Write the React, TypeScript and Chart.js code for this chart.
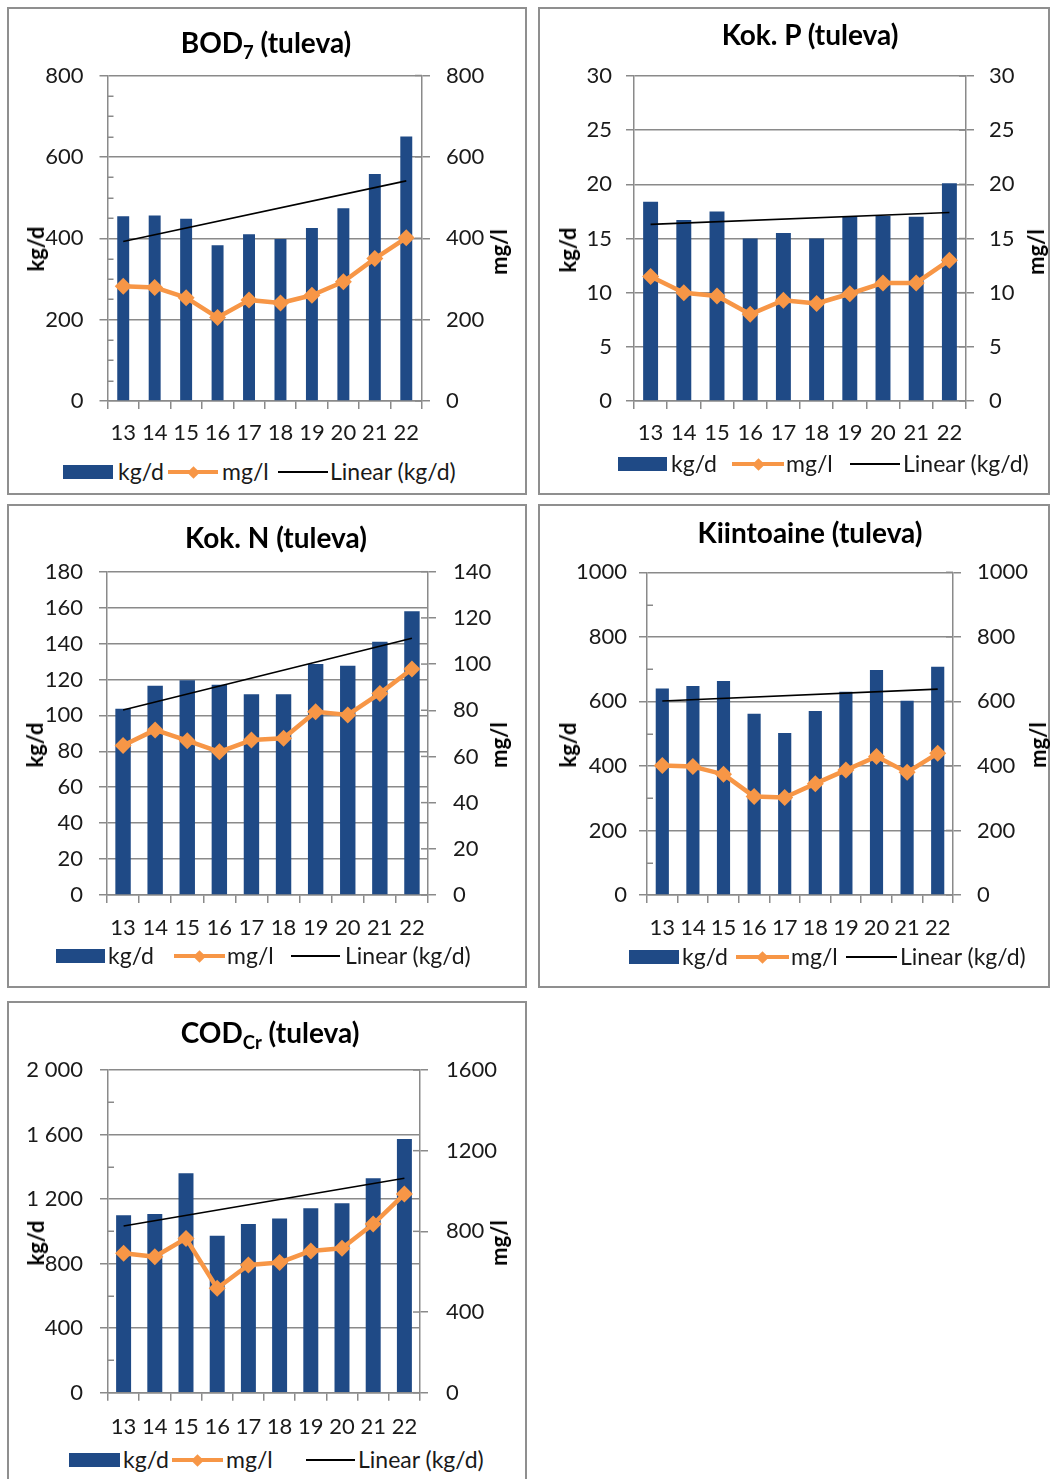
import React, { useEffect, useRef } from 'react';
import { Chart, registerables } from 'chart.js';

Chart.register(...registerables);

// ---------------- DATA ----------------
const categories = ['13', '14', '15', '16', '17', '18', '19', '20', '21', '22'];

const bodKg = [454, 456, 448, 383, 410, 398, 425, 474, 558, 650];
const bodMg = [282, 279, 254, 205, 248, 241, 260, 293, 350, 401];
const bodTrend = [392, 541];
const bodKgTicks = [0, 200, 400, 600, 800];
const bodMgTicks = [0, 200, 400, 600, 800];

const pKg = [18.4, 16.7, 17.5, 15.0, 15.5, 15.0, 17.0, 17.1, 17.0, 20.1];
const pMg = [11.5, 10.0, 9.7, 8.0, 9.3, 9.0, 9.9, 10.9, 10.9, 13.0];
const pTrend = [16.3, 17.4];
const pKgTicks = [0, 5, 10, 15, 20, 25, 30];
const pMgTicks = [0, 5, 10, 15, 20, 25, 30];

const nKg = [103.7, 116.5, 119.5, 117, 111.7, 111.7, 128.6, 127.7, 141, 158];
const nMg = [64.7, 71.5, 66.8, 62, 67.1, 67.9, 79.4, 78, 87.3, 97.9];
const nTrend = [103, 143];
const nKgTicks = [0, 20, 40, 60, 80, 100, 120, 140, 160, 180];
const nMgTicks = [0, 20, 40, 60, 80, 100, 120, 140];

const ssKg = [640, 648, 663, 562, 502, 570, 630, 697, 602, 707];
const ssMg = [401, 398, 374, 305, 302, 345, 387, 429, 380, 439];
const ssTrend = [601, 638];
const ssKgTicks = [0, 200, 400, 600, 800, 1000];
const ssMgTicks = [0, 200, 400, 600, 800, 1000];

const codKg = [1100, 1108, 1360, 973, 1046, 1079, 1143, 1174, 1329, 1573];
const codMg = [691, 674, 765, 518, 633, 645, 703, 716, 836, 985];
const codTrend = [1033, 1329];
const codKgTicks = [0, 400, 800, 1200, 1600, 2000];
const codKgTickLabels = ['0', '400', '800', '1 200', '1 600', '2 000'];
const codMgTicks = [0, 400, 800, 1200, 1600];

const legendLabels = ['kg/d', 'mg/l', 'Linear (kg/d)'];

// ---------------- STYLE ----------------
const FONT = "Lato, 'Open Sans', sans-serif";
const BLUE = '#1F4A86';
const ORANGE = '#F79646';
const GRID = '#8a8a8a';
const TEXT = '#1a1a1a';
const TICK_SIZE = 22;
const TOP_PAD = 36;

const extraTicks = {
  id: 'extraTicks',
  beforeDatasetsDraw(chart: any, _args: any, opts: any) {
    const { ctx, chartArea } = chart;
    const y = chart.scales.y;
    const y1 = chart.scales.y1;
    ctx.save();
    ctx.strokeStyle = GRID;
    ctx.lineWidth = 1.5;
    if (opts && opts.minorStep) {
      for (let v = y.min; v <= y.max + 1e-9; v += opts.minorStep) {
        const r = v / opts.majorStep;
        if (Math.abs(r - Math.round(r)) < 1e-6) continue;
        const py = Math.round(y.getPixelForValue(v)) + 0.25;
        ctx.beginPath();
        ctx.moveTo(chartArea.left, py);
        ctx.lineTo(chartArea.left + 6, py);
        ctx.stroke();
      }
    }
    y1.ticks.forEach((t: any) => {
      const py = y1.getPixelForValue(t.value);
      ctx.beginPath();
      ctx.moveTo(chartArea.right - 7, py);
      ctx.lineTo(chartArea.right, py);
      ctx.stroke();
    });
    ctx.restore();
  },
};

type PanelCfg = any;

const subStyle: React.CSSProperties = { fontSize: '0.66em', position: 'relative', top: '0.3em' };

const panels: PanelCfg[] = [
  {
    key: 'bod',
    title: (
      <>
        BOD<span style={subStyle}>7</span> (tuleva)
      </>
    ),
    kg: bodKg, mg: bodMg, trend: bodTrend,
    kgTicks: bodKgTicks, mgTicks: bodMgTicks, kgLabels: null,
    box: { x: 7, y: 7, w: 520, h: 488 },
    area: { l: 107.5, r: 422, t: 75.5, b: 401 },
    xLabelY: 433, leftPad: 16, rightPad: 16, barPct: 0.38, minorStep: 50,
    titlePos: [266, 42], kgPos: [36, 249], mgPos: [499, 252],
    legend: { y: 472, bar: [63, 113], t1: 118, line: [168, 218], t2: 222, trend: [278, 328], t3: 330 },
  },
  {
    key: 'p',
    title: <>Kok. P (tuleva)</>,
    kg: pKg, mg: pMg, trend: pTrend,
    kgTicks: pKgTicks, mgTicks: pMgTicks, kgLabels: null,
    box: { x: 538, y: 7, w: 512, h: 488 },
    area: { l: 634, r: 966, t: 76, b: 401 },
    xLabelY: 433, leftPad: 14, rightPad: 15, barPct: 0.45, minorStep: 0,
    titlePos: [810, 34], kgPos: [568, 250], mgPos: [1036, 252],
    legend: { y: 464, bar: [618, 667], t1: 671, line: [732, 784], t2: 786, trend: [850, 900], t3: 903 },
  },
  {
    key: 'n',
    title: <>Kok. N (tuleva)</>,
    kg: nKg, mg: nMg, trend: nTrend,
    kgTicks: nKgTicks, mgTicks: nMgTicks, kgLabels: null,
    box: { x: 7, y: 504, w: 520, h: 484 },
    area: { l: 107, r: 428, t: 571.7, b: 895 },
    xLabelY: 928, leftPad: 16, rightPad: 17, barPct: 0.48, minorStep: 0,
    titlePos: [276, 537], kgPos: [35, 745], mgPos: [499, 745],
    legend: { y: 956, bar: [56, 105], t1: 108, line: [174, 225], t2: 227, trend: [291, 340], t3: 345 },
  },
  {
    key: 'ss',
    title: <>Kiintoaine (tuleva)</>,
    kg: ssKg, mg: ssMg, trend: ssTrend,
    kgTicks: ssKgTicks, mgTicks: ssMgTicks, kgLabels: null,
    box: { x: 538, y: 504, w: 512, h: 484 },
    area: { l: 647, r: 953, t: 572.3, b: 895 },
    xLabelY: 928, leftPad: 12, rightPad: 16, barPct: 0.43, minorStep: 100,
    titlePos: [810, 532], kgPos: [568, 745], mgPos: [1038, 745],
    legend: { y: 957, bar: [629, 679], t1: 682, line: [736, 789], t2: 791, trend: [846, 897], t3: 900 },
  },
  {
    key: 'cod',
    title: (
      <>
        COD<span style={subStyle}>Cr</span> (tuleva)
      </>
    ),
    kg: codKg, mg: codMg, trend: codTrend,
    kgTicks: codKgTicks, mgTicks: codMgTicks, kgLabels: codKgTickLabels,
    box: { x: 7, y: 1001, w: 520, h: 500 },
    area: { l: 108, r: 420, t: 1070, b: 1392.7 },
    xLabelY: 1427, leftPad: 17, rightPad: 18, barPct: 0.48, minorStep: 200,
    titlePos: [270, 1032], kgPos: [36, 1243], mgPos: [499, 1243],
    legend: { y: 1460, bar: [69, 120], t1: 123, line: [172, 223], t2: 226, trend: [306, 355], t3: 358 },
  },
];

function ChartCanvas({ p }: { p: PanelCfg }) {
  const ref = useRef<HTMLCanvasElement>(null);
  const cLeft = p.box.x + 2;
  const cTop = Math.round(p.area.t - TOP_PAD);
  const padTop = p.area.t - cTop;
  const cW = p.box.w - 4;
  const cH = Math.round(p.xLabelY + 18 - cTop);

  useEffect(() => {
    if (!ref.current) return;
    const n = categories.length;
    const trendData = categories.map((_, i) => (i === 0 ? p.trend[0] : i === n - 1 ? p.trend[1] : null));
    const kgMin = p.kgTicks[0];
    const kgMax = p.kgTicks[p.kgTicks.length - 1];
    const kgStep = p.kgTicks[1] - p.kgTicks[0];
    const mgMin = p.mgTicks[0];
    const mgMax = p.mgTicks[p.mgTicks.length - 1];
    const mgStep = p.mgTicks[1] - p.mgTicks[0];
    const tickFont = { family: FONT, size: TICK_SIZE };
    const xPad = p.xLabelY - p.area.b - 8 - (TICK_SIZE * 1.2) / 2;

    const chart = new Chart(ref.current, {
      type: 'bar',
      data: {
        labels: categories,
        datasets: [
          {
            type: 'line',
            label: legendLabels[1],
            data: p.mg,
            yAxisID: 'y1',
            borderColor: ORANGE,
            backgroundColor: ORANGE,
            borderWidth: 4.5,
            borderJoinStyle: 'round',
            borderCapStyle: 'round',
            pointStyle: 'rectRot',
            pointRadius: 8.5,
            pointBorderWidth: 0,
            pointBackgroundColor: ORANGE,
            tension: 0,
            order: 1,
          } as any,
          {
            type: 'line',
            label: legendLabels[2],
            data: trendData,
            yAxisID: 'y',
            borderColor: '#000000',
            borderWidth: 1.6,
            pointRadius: 0,
            spanGaps: true,
            order: 2,
          } as any,
          {
            type: 'bar',
            label: legendLabels[0],
            data: p.kg,
            yAxisID: 'y',
            backgroundColor: BLUE,
            borderWidth: 0,
            barPercentage: p.barPct,
            categoryPercentage: 1,
            order: 3,
          } as any,
        ],
      },
      options: {
        responsive: false,
        animation: false,
        events: [],
        layout: { padding: { top: padTop, left: 0, right: 0, bottom: 0 } },
        plugins: {
          legend: { display: false },
          title: { display: false },
          tooltip: { enabled: false },
          extraTicks: { minorStep: p.minorStep, majorStep: kgStep },
        } as any,
        scales: {
          x: {
            type: 'category',
            offset: true,
            grid: { offset: true, drawOnChartArea: false, drawTicks: true, tickLength: 8, color: GRID, lineWidth: 1.5 },
            border: { display: true, color: GRID, width: 1.5 },
            ticks: { font: tickFont, color: TEXT, padding: xPad, maxRotation: 0, autoSkip: false },
            afterFit: (s: any) => {
              s.height = cTop + cH - p.area.b;
            },
          },
          y: {
            position: 'left',
            min: kgMin,
            max: kgMax,
            ticks: {
              stepSize: kgStep,
              font: tickFont,
              color: TEXT,
              padding: p.leftPad,
              callback: (v: any, i: number) => (p.kgLabels ? p.kgLabels[i] : String(v)),
            },
            grid: { color: GRID, lineWidth: 1.5, drawTicks: true, tickLength: 8 },
            border: { display: true, color: GRID, width: 1.5 },
            afterFit: (s: any) => {
              s.width = p.area.l - cLeft;
            },
          },
          y1: {
            position: 'right',
            min: mgMin,
            max: mgMax,
            ticks: {
              stepSize: mgStep,
              font: tickFont,
              color: TEXT,
              padding: p.rightPad,
              callback: (v: any) => String(v),
            },
            grid: { drawOnChartArea: false, color: GRID, lineWidth: 1.5, drawTicks: true, tickLength: 8 },
            border: { display: true, color: GRID, width: 1.5 },
            afterFit: (s: any) => {
              s.width = cLeft + cW - p.area.r;
            },
          },
        } as any,
      },
      plugins: [extraTicks as any],
    });
    return () => chart.destroy();
  }, []);

  return (
    <canvas
      ref={ref}
      width={cW}
      height={cH}
      style={{ position: 'absolute', left: cLeft, top: cTop, width: cW, height: cH }}
    />
  );
}

function Panel({ p }: { p: PanelCfg }) {
  const L = p.legend;
  const legendText: React.CSSProperties = {
    position: 'absolute',
    top: L.y,
    transform: 'translateY(-52%)',
    fontFamily: FONT,
    fontSize: 23,
    lineHeight: 1,
    color: TEXT,
    whiteSpace: 'nowrap',
  };
  const axisTitle: React.CSSProperties = {
    position: 'absolute',
    fontFamily: FONT,
    fontWeight: 700,
    fontSize: 22,
    lineHeight: 1,
    color: '#000',
    whiteSpace: 'nowrap',
    transform: 'translate(-50%, -50%) rotate(-90deg)',
  };
  const dCx = (L.line[0] + L.line[1]) / 2;
  return (
    <>
      <div
        style={{
          position: 'absolute',
          left: p.box.x,
          top: p.box.y,
          width: p.box.w,
          height: p.box.h,
          boxSizing: 'border-box',
          border: '2px solid #8f8f8f',
          background: '#ffffff',
        }}
      />
      <ChartCanvas p={p} />
      <div
        style={{
          position: 'absolute',
          left: p.titlePos[0],
          top: p.titlePos[1],
          transform: 'translate(-50%, -50%)',
          fontFamily: FONT,
          fontWeight: 700,
          fontSize: 28,
          lineHeight: 1,
          color: '#000',
          whiteSpace: 'nowrap',
        }}
      >
        {p.title}
      </div>
      <div style={{ ...axisTitle, left: p.kgPos[0], top: p.kgPos[1] }}>kg/d</div>
      <div style={{ ...axisTitle, left: p.mgPos[0], top: p.mgPos[1] }}>mg/l</div>
      {/* legend */}
      <div style={{ position: 'absolute', left: L.bar[0], width: L.bar[1] - L.bar[0], top: L.y - 7, height: 14, background: BLUE }} />
      <div style={{ ...legendText, left: L.t1 }}>{legendLabels[0]}</div>
      <div style={{ position: 'absolute', left: L.line[0], width: L.line[1] - L.line[0], top: L.y - 2, height: 4, background: ORANGE }} />
      <div
        style={{
          position: 'absolute',
          left: dCx - 4.5,
          top: L.y - 4.5,
          width: 9,
          height: 9,
          background: ORANGE,
          transform: 'rotate(45deg)',
        }}
      />
      <div style={{ ...legendText, left: L.t2 }}>{legendLabels[1]}</div>
      <div style={{ position: 'absolute', left: L.trend[0], width: L.trend[1] - L.trend[0], top: L.y - 1, height: 1.6, background: '#000' }} />
      <div style={{ ...legendText, left: L.t3 }}>{legendLabels[2]}</div>
    </>
  );
}

export default function App() {
  return (
    <div
      style={{
        position: 'absolute',
        left: 0,
        top: 0,
        width: 1055,
        height: 1479,
        overflow: 'hidden',
        background: '#ffffff',
      }}
    >
      {panels.map((p) => (
        <Panel key={p.key} p={p} />
      ))}
    </div>
  );
}
